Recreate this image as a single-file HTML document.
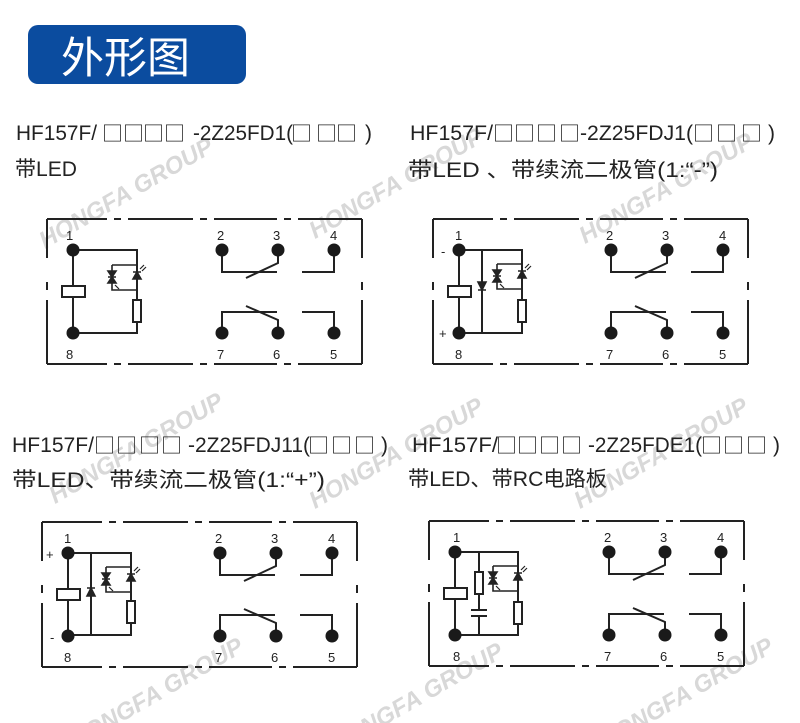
<!DOCTYPE html>
<html><head><meta charset="utf-8"><style>
html,body{margin:0;padding:0;background:#fff}
svg{display:block}
.t{font-family:"Liberation Sans","Noto Sans CJK SC",sans-serif;fill:#222;font-size:21px}
.sq{font-family:"Noto Sans CJK SC",sans-serif;font-size:21px;fill:#222}
.w{font-family:"Liberation Sans",sans-serif;font-weight:bold;font-style:italic;font-size:24px;fill:#d8d8d8}
.n{font-family:"Liberation Sans",sans-serif;font-size:13px;fill:#222}
</style></head><body>
<svg width="800" height="723" viewBox="0 0 800 723" xmlns="http://www.w3.org/2000/svg">
<defs>
<g id="box" fill="none" stroke="#222" stroke-width="2">
  <path d="M-26,-31H34M41,-31H48M55,-31H120M127,-31H134M141,-31H204M211,-31H218M225,-31H289"/>
  <path d="M-26,114H34M41,114H48M55,114H120M127,114H134M141,114H204M211,114H218M225,114H289"/>
  <path d="M-26,-31V8M-26,32V40M-26,50V114"/>
  <path d="M289,-31V8M289,32V40M289,50V114"/>
</g>
<g id="cont">
  <g fill="none" stroke="#222" stroke-width="2">
    <path d="M152,0V22H207"/>
    <path d="M208,0V13L176,28"/>
    <path d="M232,22H264V0"/>
    <path d="M152,83V62H207"/>
    <path d="M176,56L208,70V83"/>
    <path d="M232,62H264V83"/>
  </g>
  <g fill="#1a1a1a">
    <circle cx="152" cy="0" r="6.5"/><circle cx="208" cy="0" r="6.5"/><circle cx="264" cy="0" r="6.5"/>
    <circle cx="152" cy="83" r="6.5"/><circle cx="208" cy="83" r="6.5"/><circle cx="264" cy="83" r="6.5"/>
  </g>
  <text class="n" x="147" y="-10">2</text><text class="n" x="203" y="-10">3</text><text class="n" x="260" y="-10">4</text>
  <text class="n" x="147" y="109">7</text><text class="n" x="203" y="109">6</text><text class="n" x="260" y="109">5</text>
  <text class="n" x="-4" y="-10">1</text><text class="n" x="-4" y="109">8</text>
</g>
<g id="coil">
  <g fill="none" stroke="#222" stroke-width="2">
    <path d="M0,0V36M0,47V83"/>
    <rect x="-11" y="36" width="23" height="11" fill="#fff"/>
  </g>
  <circle cx="0" cy="0" r="6.5" fill="#1a1a1a"/><circle cx="0" cy="83" r="6.5" fill="#1a1a1a"/>
</g>
<g id="led" fill="none" stroke="#222" stroke-width="1.6">
  <path d="M0,0H25M0,0V25H25"/>
  <path d="M-4,6L4,6L0,12ZM-4,18L4,18L0,12ZM-4,12H4" fill="#222"/>
  <path d="M21,14L29,14L25,7ZM21,7H29" fill="#222"/>
  <path d="M28,4L32,0M30,6L34,2" stroke-width="1.2"/>
  <path d="M3,20L7,24" stroke-width="1.2"/>
</g>
<g id="res" fill="#fff" stroke="#222" stroke-width="2"><rect x="-4" y="0" width="8" height="22"/></g>
</defs>

<g class="w">
<text transform="translate(130,200) rotate(-30)" text-anchor="middle">HONGFA GROUP</text>
<text transform="translate(400,190) rotate(-30)" text-anchor="middle">HONGFA GROUP</text>
<text transform="translate(670,195) rotate(-30)" text-anchor="middle">HONGFA GROUP</text>
<text transform="translate(140,455) rotate(-30)" text-anchor="middle">HONGFA GROUP</text>
<text transform="translate(400,460) rotate(-30)" text-anchor="middle">HONGFA GROUP</text>
<text transform="translate(665,460) rotate(-30)" text-anchor="middle">HONGFA GROUP</text>
<text transform="translate(160,700) rotate(-30)" text-anchor="middle">HONGFA GROUP</text>
<text transform="translate(420,705) rotate(-30)" text-anchor="middle">HONGFA GROUP</text>
<text transform="translate(690,700) rotate(-30)" text-anchor="middle">HONGFA GROUP</text>
</g>

<rect x="28" y="25" width="218" height="59" rx="10" fill="#0b4c9f"/>
<text x="61" y="73" font-family="Noto Sans CJK SC,sans-serif" font-size="43" fill="#fff">外形图</text>

<g class="t">
<text x="16" y="140" textLength="81" lengthAdjust="spacingAndGlyphs">HF157F/</text>
<text x="193" y="140" textLength="100" lengthAdjust="spacingAndGlyphs">-2Z25FD1(</text>
<text x="365" y="140">)</text>
<text x="410" y="140" textLength="83" lengthAdjust="spacingAndGlyphs">HF157F/</text>
<text x="580" y="140" textLength="113" lengthAdjust="spacingAndGlyphs">-2Z25FDJ1(</text>
<text x="768" y="140">)</text>
<text x="12" y="452" textLength="82" lengthAdjust="spacingAndGlyphs">HF157F/</text>
<text x="188" y="452" textLength="122" lengthAdjust="spacingAndGlyphs">-2Z25FDJ11(</text>
<text x="381" y="452">)</text>
<text x="412" y="452" textLength="86" lengthAdjust="spacingAndGlyphs">HF157F/</text>
<text x="588" y="452" textLength="114" lengthAdjust="spacingAndGlyphs">-2Z25FDE1(</text>
<text x="773" y="452">)</text>

<text x="15" y="176" textLength="62" lengthAdjust="spacingAndGlyphs">带LED</text>
<text x="408" y="177" textLength="310" lengthAdjust="spacingAndGlyphs">带LED 、带续流二极管(1:“-”)</text>
<text x="12" y="487" textLength="313" lengthAdjust="spacingAndGlyphs">带LED、带续流二极管(1:“+”)</text>
<text x="408" y="486" textLength="199" lengthAdjust="spacingAndGlyphs">带LED、带RC电路板</text>
</g>
<g class="sq">
<text x="102" y="141">□</text><text x="123" y="141">□</text><text x="143" y="141">□</text><text x="164" y="141">□</text>
<text x="291" y="141">□</text><text x="316" y="141">□</text><text x="336" y="141">□</text>
<text x="493" y="141">□</text><text x="514" y="141">□</text><text x="536" y="141">□</text><text x="559" y="141">□</text>
<text x="693" y="141">□</text><text x="716" y="141">□</text><text x="741" y="141">□</text>
<text x="94" y="453">□</text><text x="116" y="453">□</text><text x="139" y="453">□</text><text x="161" y="453">□</text>
<text x="308" y="453">□</text><text x="331" y="453">□</text><text x="354" y="453">□</text>
<text x="496" y="453">□</text><text x="517" y="453">□</text><text x="539" y="453">□</text><text x="561" y="453">□</text>
<text x="701" y="453">□</text><text x="723" y="453">□</text><text x="746" y="453">□</text>
</g>

<g transform="translate(73,250)">
  <use href="#box"/><use href="#cont" transform="translate(-3,0)"/>
  <g fill="none" stroke="#222" stroke-width="2"><path d="M0,0H64V50M64,72V83H0"/></g>
  <use href="#led" transform="translate(39,15)"/>
  <use href="#res" transform="translate(64,50)"/>
  <use href="#coil"/>
</g>

<g transform="translate(459,250)">
  <use href="#box"/><use href="#cont"/>
  <g fill="none" stroke="#222" stroke-width="2"><path d="M0,0H63V50M63,72V83H0M23,0V83"/></g>
  <path d="M19,32H27L23,40ZM19,40H27" fill="#222" stroke="#222" stroke-width="1.6"/>
  <use href="#led" transform="translate(38,14)"/>
  <use href="#res" transform="translate(63,50)"/>
  <use href="#coil"/>
  <text class="n" x="-18" y="6" font-size="16">-</text>
  <text class="n" x="-20" y="88" font-size="16">+</text>
</g>

<g transform="translate(68,553)">
  <use href="#box"/><use href="#cont"/>
  <g fill="none" stroke="#222" stroke-width="2"><path d="M0,0H63V48M63,70V82H0M23,0V82"/></g>
  <path d="M19,43H27L23,35ZM19,35H27" fill="#222" stroke="#222" stroke-width="1.6"/>
  <use href="#led" transform="translate(38,14)"/>
  <use href="#res" transform="translate(63,48)"/>
  <use href="#coil"/>
  <text class="n" x="-22" y="6" font-size="16">+</text>
  <text class="n" x="-18" y="89" font-size="16">-</text>
</g>

<g transform="translate(455,552)">
  <use href="#box"/><use href="#cont" transform="translate(2,0)"/>
  <g fill="none" stroke="#222" stroke-width="2"><path d="M0,0H63V50M63,72V83H0M24,0V20M24,42V58M24,64V83"/>
  <path d="M16,58H32M16,64H32"/></g>
  <use href="#res" transform="translate(24,20)"/>
  <use href="#led" transform="translate(38,14)"/>
  <use href="#res" transform="translate(63,50)"/>
  <use href="#coil"/>
</g>
</svg>
</body></html>
